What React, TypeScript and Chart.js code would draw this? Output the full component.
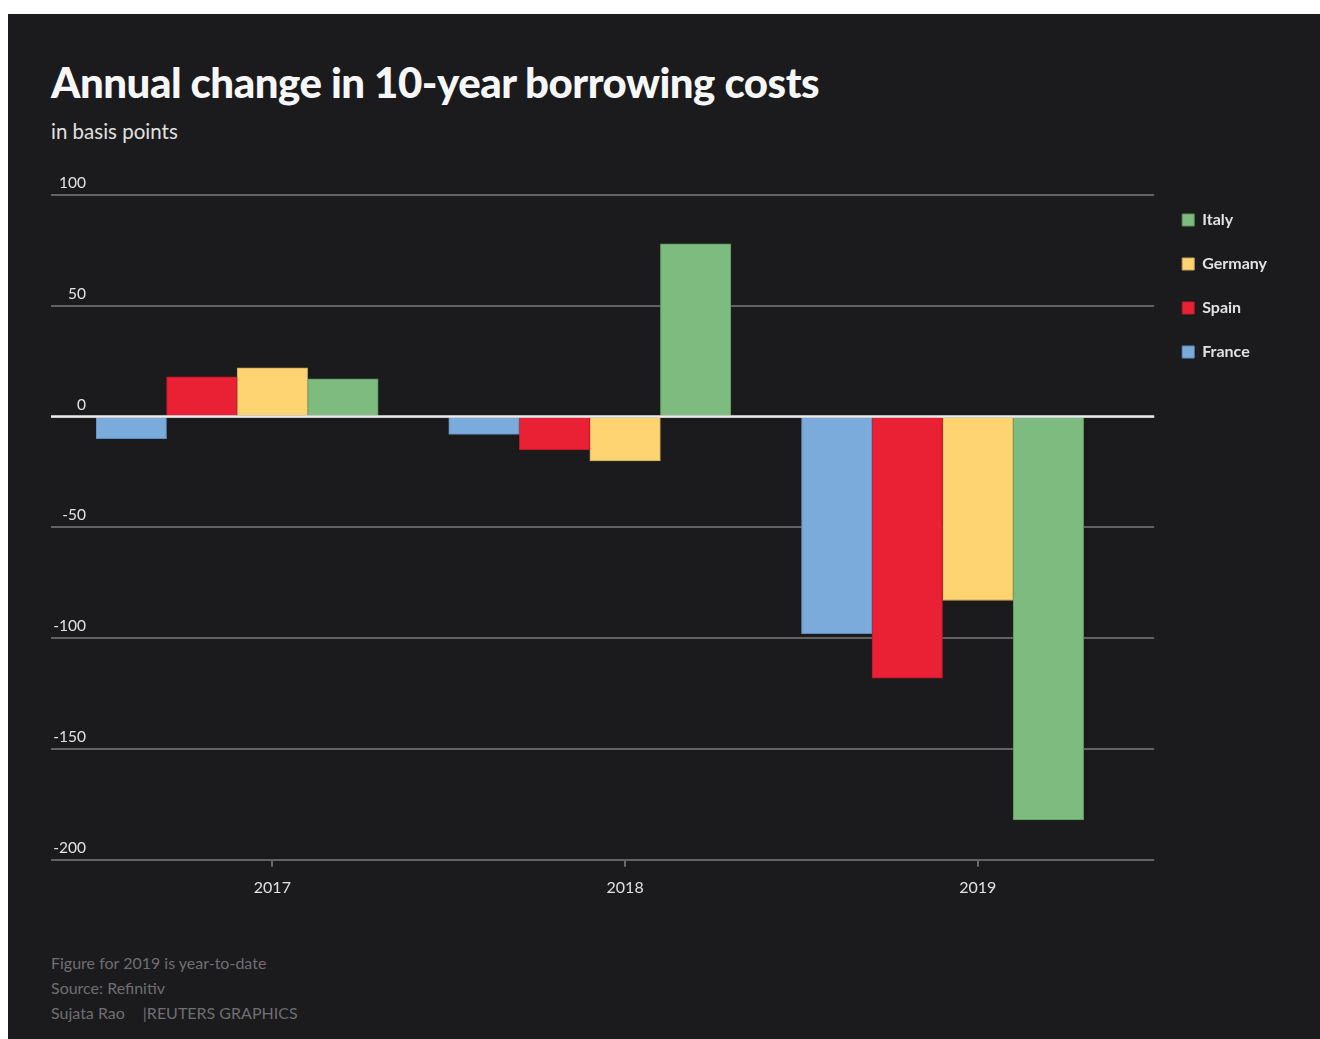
import React, { useEffect, useRef } from "react";
import { Chart, registerables } from "chart.js";

Chart.register(...registerables);

const categories = ["2017", "2018", "2019"];
const seriesNames = ["France", "Spain", "Germany", "Italy"];
const france = [-10, -8, -98];
const spain = [18, -15, -118];
const germany = [22, -20, -83];
const italy = [17, 78, -182];
const spacer = [null, null, null];
const seriesColors = ["#7aabdb", "#ea2134", "#fed372", "#7dbb7f"];
const seriesBorders = ["#5f8cb6", "#b81a2a", "#c9a75a", "#5f9661"];
const yMin = -200;
const yMax = 100;
const yStep = 50;

const BG = "#1b1a1d";
const FONT = "Lato, 'Open Sans', sans-serif";

const zeroLinePlugin = {
  id: "zeroLine",
  afterDatasetsDraw(chart: any) {
    const y = chart.scales.y;
    const area = chart.chartArea;
    const py = y.getPixelForValue(0);
    const ctx = chart.ctx;
    ctx.save();
    ctx.strokeStyle = "#ececec";
    ctx.lineWidth = 2.5;
    ctx.beginPath();
    ctx.moveTo(y.left, py);
    ctx.lineTo(area.right, py);
    ctx.stroke();
    ctx.restore();
  },
};

export default function App() {
  const ref = useRef<HTMLCanvasElement | null>(null);

  useEffect(() => {
    if (!ref.current) return;
    const values = [france, spain, germany, italy];
    const datasets: any[] = seriesNames.map((name, i) => ({
      label: name,
      data: values[i],
      backgroundColor: seriesColors[i],
      borderColor: seriesBorders[i],
      borderWidth: 1,
      barPercentage: 1.0,
      categoryPercentage: 1.0,
    }));
    // empty slot that leaves the gap at the right of each group
    datasets.push({
      label: "",
      data: spacer,
      backgroundColor: "transparent",
      borderWidth: 0,
      barPercentage: 1.0,
      categoryPercentage: 1.0,
    });
    const chart = new Chart(ref.current, {
      type: "bar",
      data: { labels: categories, datasets },
      options: {
        animation: false,
        responsive: false,
        maintainAspectRatio: false,
        layout: { padding: { top: 35, bottom: 2, left: 0, right: 43 } },
        plugins: {
          tooltip: { enabled: false },
          title: { display: false },
          legend: {
            display: true,
            position: "right",
            align: "start",
            reverse: true,
            title: {
              display: true,
              text: "",
              font: { size: 10 },
              padding: { top: -12, bottom: -11 },
            },
            labels: {
              boxWidth: 12,
              boxHeight: 12,
              padding: 28,
              color: "#e2e2e2",
              font: { family: FONT, size: 16, weight: "bold" },
              filter: (item: any) => item.text !== "",
            },
          },
        },
        scales: {
          x: {
            border: { display: false },
            grid: {
              offset: false,
              drawOnChartArea: false,
              drawTicks: true,
              tickLength: 7,
              color: "#6a6a6a",
              lineWidth: 2,
            },
            ticks: {
              padding: 11,
              color: "#e2e2e2",
              font: { family: FONT, size: 16 },
            },
          },
          y: {
            min: yMin,
            max: yMax,
            afterFit: (s: any) => {
              s.width = 45;
            },
            border: { display: false },
            grid: {
              drawTicks: true,
              tickLength: 45,
              color: "#626262",
              lineWidth: 2,
            },
            ticks: {
              stepSize: yStep,
              padding: -35,
              labelOffset: -12,
              crossAlign: "near",
              color: "#e2e2e2",
              font: { family: FONT, size: 15.5 },
            },
          },
        },
      },
      plugins: [zeroLinePlugin],
    } as any);
    return () => chart.destroy();
  }, []);

  return (
    <div
      style={{
        position: "absolute",
        left: 8,
        top: 14,
        width: 1312,
        height: 1025,
        background: BG,
        overflow: "hidden",
        fontFamily: FONT,
      }}
    >
      <div
        style={{
          position: "absolute",
          left: 43,
          top: 47,
          fontSize: 42,
          lineHeight: 1,
          fontWeight: 900,
          color: "#f7f7f9",
          letterSpacing: -0.5,
          whiteSpace: "nowrap",
        }}
      >
        Annual change in 10-year borrowing costs
      </div>
      <div
        style={{
          position: "absolute",
          left: 43,
          top: 107,
          fontSize: 20.5,
          lineHeight: 1,
          color: "#e0e0e0",
          whiteSpace: "nowrap",
        }}
      >
        in basis points
      </div>
      <canvas
        ref={ref}
        width={1269}
        height={750}
        style={{ position: "absolute", left: 43, top: 146, width: 1269, height: 750 }}
      />
      <div
        style={{
          position: "absolute",
          left: 43,
          top: 936,
          fontSize: 16,
          lineHeight: "25px",
          color: "#6f6f72",
          whiteSpace: "nowrap",
        }}
      >
        <div>Figure for 2019 is year-to-date</div>
        <div>Source: Refinitiv</div>
        <div>
          Sujata Rao<span style={{ marginLeft: 18 }}>|REUTERS GRAPHICS</span>
        </div>
      </div>
    </div>
  );
}
